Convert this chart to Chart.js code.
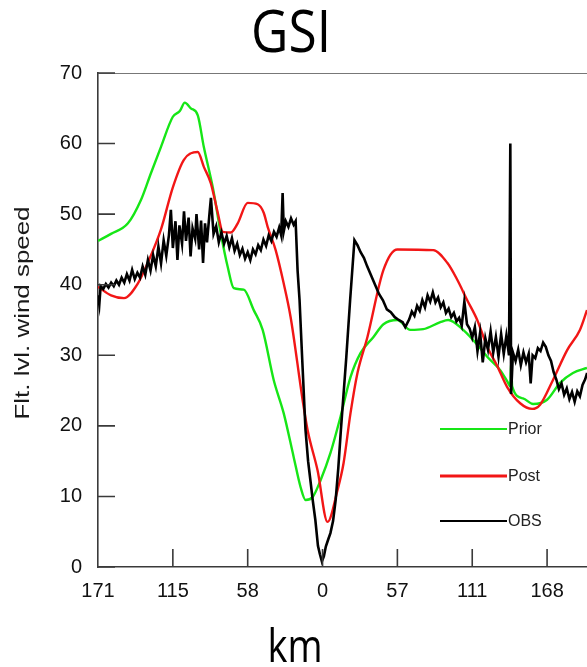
<!DOCTYPE html>
<html>
<head>
<meta charset="utf-8">
<script src="https://cdn.jsdelivr.net/npm/chart.js@4.4.1/dist/chart.umd.min.js"></script>
<style>
  html, body { margin: 0; padding: 0; background: #fff; }
  canvas { display: block; }
</style>
</head>
<body>
<canvas id="wind" width="587" height="667"></canvas>
<script>
// ─── Axis setup ───────────────────────────────────────────────────
// along-track position in km (centre pass = 0); tick labels give distance from centre
const tickPos = [-171, -114, -57, 0, 57, 114, 171];
const tickLabels = ['171', '115', '58', '0', '57', '111', '168'];
const yTicks = [0, 10, 20, 30, 40, 50, 60, 70];
const seriesNames = ['Prior', 'Post', 'OBS'];

// ─── Prior (background) ───────────────────────────────────────────
const priorKm = [-171, -161.1, -148.2, -138.3, -130.7, -123.1, -114, -108.7, -104.9, -100.3, -95, -90.4,
  -83.6, -77.5, -72.2, -67.6, -60, -52.4, -45.6, -37.2, -29.6, -22, -16.7, -12.9, -7.6, -1.5, 6.1, 13.7,
  21.3, 28.9, 38.8, 46.4, 57, 66.9, 76.7, 89.7, 95.7, 107.1, 120.1, 125.4, 135.3, 141.3, 142.9, 143.6,
  144.4, 152.7, 160.3, 171, 180.9, 190.7, 201.4];
const priorVal = [46.2, 47.2, 48.7, 52.0, 55.8, 59.5, 63.8, 64.6, 65.8, 65.0, 64.0, 59.5,
  53.8, 47.3, 42.5, 39.5, 39.3, 36.4, 33.6, 26.5, 21.8, 15.6, 11.3, 9.5, 9.9, 12.3, 16.2, 21.3,
  26.9, 30.3, 32.6, 34.4, 35.0, 33.6, 33.7, 34.7, 35.0, 33.6, 31.0, 29.8, 27.9, 26.1, 25.6, 29.0,
  25.6, 23.9, 23.1, 23.7, 26.1, 27.5, 28.2];

// ─── Post (analysis) ──────────────────────────────────────────────
const postKm = [-171, -161.1, -151.2, -140.6, -132.2, -123.1, -114, -105.6, -95, -90.4, -85.1, -79.8,
  -76, -69.9, -64.6, -57, -49.4, -44.8, -41.8, -35.7, -29.6, -24.3, -15.2, -11.4, -3.8, 3.8, 11.4,
  16, 21.3, 26.6, 34.2, 46.4, 57, 84.3, 95, 102.6, 110.2, 117.8, 125.4, 133, 140.6, 150.5, 159.6,
  165.7, 175.5, 186.2, 196, 201.4];
const postVal = [39.7, 38.5, 38.1, 40.2, 43.5, 47.8, 53.8, 57.7, 58.8, 56.7, 54.4, 50.2,
  47.5, 47.4, 48.7, 51.6, 51.4, 50.2, 48.2, 44.9, 40.2, 35.4, 23.7, 19.4, 13.7, 6.4, 10.9,
  14.7, 21.8, 27.5, 32.6, 42.1, 45.0, 44.9, 43.1, 40.7, 37.8, 35.0, 31.2, 28.5, 25.5, 23.2, 22.4,
  23.0, 26.5, 30.7, 33.6, 36.4];

// ─── OBS (flight-level observations) ──────────────────────────────
const obsKm = [-171, -170, -169, -167, -165, -163, -161, -159, -157, -155, -153, -151, -149, -147, -145,
  -143, -141, -139, -137, -135, -133, -131, -129, -127, -125, -123, -121, -119, -117, -115.5, -114,
  -112, -110.5, -109, -107, -105.5, -104, -102, -100.5, -99, -97, -96, -94, -92.5, -91, -89.5, -88,
  -86, -85, -83, -81, -79, -77, -75, -73, -71, -69, -67, -65, -63, -61, -59, -57, -55, -53, -51,
  -49, -47, -45, -43, -41, -39, -37, -35, -33, -31.5, -30.4, -29.5, -28, -26, -24, -22, -20.5, -19,
  -17.5, -15.5, -13, -11, -9, -7.5, -5.5, -3.5, -2, -0.5, 1, 2.5, 4.5, 6, 8, 10, 12, 14, 16, 18,
  21, 24.3, 26.6, 29, 31.5, 34, 37, 40, 43, 46, 49, 52, 55, 58, 61, 63, 66, 68, 70, 72, 74, 76,
  78, 80, 82, 84, 86, 88, 90, 92, 94, 96, 98, 100, 102, 104, 106, 108, 110, 112, 114, 116, 118,
  120, 122, 124, 126, 128, 130, 132, 134, 136, 138, 140, 142, 143, 143.6, 145, 147, 149, 151, 153,
  155, 157, 158.5, 160, 162, 164, 166, 168, 170, 172, 174, 176, 178, 180, 182, 184, 186, 188, 190,
  192, 194, 196, 198, 200, 201.5];
const obsVal = [38.5, 37.2, 39.8, 39.4, 40.1, 39.6, 40.3, 39.8, 40.6, 40.0, 41.0, 40.3, 41.5, 40.6, 42.1,
  40.8, 41.7, 41.0, 42.6, 41.4, 43.5, 42.0, 44.2, 42.6, 45.4, 43.0, 46.3, 44.1, 47.0, 50.6, 45.2,
  49.0, 43.5, 48.4, 45.8, 50.4, 46.2, 49.5, 44.0, 48.0, 46.5, 50.0, 45.0, 49.1, 43.1, 48.7, 46.0,
  50.3, 52.3, 47.2, 48.3, 46.0, 47.4, 45.8, 46.9, 45.3, 46.6, 44.8, 45.8, 44.2, 45.1, 43.7, 44.6, 43.5, 45.0, 44.3,
  45.6, 44.9, 46.4, 45.5, 47.0, 46.2, 47.5, 46.8, 48.1, 47.0, 53.0, 47.6, 49.0, 48.2, 49.4, 48.5, 49.0, 42.0,
  37.8, 29.5, 19.5, 15.0, 11.9, 9.5, 6.7, 3.0, 1.8, 0.8, 1.5, 2.9, 4.0, 4.8, 6.5, 9.5, 14.0, 19.5, 24.5, 29.5,
  37.8, 46.3, 45.6, 44.6, 43.8, 42.6, 41.3, 40.0, 38.7, 37.8, 36.5, 36.1, 35.4, 35.0, 34.7, 34.0, 35.1, 36.2, 35.6, 37.0, 36.3, 37.8,
  36.8, 38.5, 37.6, 38.9, 37.5, 38.2, 36.8, 37.5, 36.0, 36.6, 35.4, 36.0, 34.8, 35.3, 34.2, 37.6, 34.4, 33.8, 32.5, 34.0, 30.6,
  33.2, 29.0, 32.4, 30.8, 33.4, 30.4, 32.6, 29.8, 33.0, 30.2, 32.8, 30.0, 60.0, 24.5, 30.4, 29.2, 30.8, 28.6, 30.4,
  29.0, 30.2, 26.0, 30.0, 29.6, 31.0, 30.6, 31.8, 31.2, 30.0, 29.2, 27.6, 26.6, 25.2, 26.0, 24.4, 25.3, 23.8, 24.8,
  23.4, 24.9, 24.2, 25.8, 26.6, 27.5];

const colors = { prior: '#16e616', post: '#f21616', obs: '#000000', axis: '#3a3a3a', text: '#111111' };
const tickFont = '"Liberation Sans", Arial, sans-serif';

const toPoints = (xs, ys) => xs.map((x, i) => ({ x, y: ys[i] }));

// draw text squeezed/stretched to a given width
function fitText(ctx, text, cx, cy, width) {
    const w = ctx.measureText(text).width;
    ctx.save();
    ctx.translate(cx, cy);
    ctx.scale(width / w, 1);
    ctx.fillText(text, 0, 0);
    ctx.restore();
}

// ─── Frame, inward ticks, titles and legend ───────────────────────
const decorations = {
    id: 'decorations',
    afterDraw(chart) {
        const { ctx, chartArea: a, scales: { x, y } } = chart;
        ctx.save();

        // top frame line
        ctx.strokeStyle = '#777';
        ctx.lineWidth = 1.2;
        ctx.beginPath();
        ctx.moveTo(a.left, a.top + 0.5);
        ctx.lineTo(a.right, a.top + 0.5);
        ctx.stroke();

        // tick marks point into the plot
        ctx.strokeStyle = colors.axis;
        ctx.lineWidth = 1.6;
        ctx.beginPath();
        yTicks.forEach((v) => {
            const py = y.getPixelForValue(v);
            ctx.moveTo(a.left, py);
            ctx.lineTo(a.left + 17, py);
        });
        tickPos.slice(1).forEach((v) => {
            const px = x.getPixelForValue(v);
            ctx.moveTo(px, a.bottom);
            ctx.lineTo(px, a.bottom - 18);
        });
        ctx.stroke();

        // legend inside the plot
        const legendColors = [colors.prior, colors.post, colors.obs];
        const legendWidths = [2, 3, 2];
        const legendY = [429, 476, 521];
        ctx.font = '16px ' + tickFont;
        ctx.textBaseline = 'middle';
        ctx.textAlign = 'left';
        seriesNames.forEach((name, i) => {
            ctx.strokeStyle = legendColors[i];
            ctx.lineWidth = legendWidths[i];
            ctx.beginPath();
            ctx.moveTo(440, legendY[i]);
            ctx.lineTo(507, legendY[i]);
            ctx.stroke();
            ctx.fillStyle = '#222';
            ctx.fillText(name, 508, legendY[i] + 1);
        });

        // titles
        ctx.fillStyle = '#000';
        ctx.textAlign = 'center';
        ctx.textBaseline = 'alphabetic';
        ctx.font = '59px "Open Sans", sans-serif';
        fitText(ctx, 'GSI', 291, 52, 80);
        ctx.font = '45px "Open Sans", sans-serif';
        fitText(ctx, 'km', 295, 662, 55);

        ctx.save();
        ctx.translate(23, 313);
        ctx.rotate(-Math.PI / 2);
        ctx.font = '21px ' + tickFont;
        ctx.textBaseline = 'middle';
        ctx.fillStyle = '#1a1a1a';
        fitText(ctx, 'Flt. lvl. wind speed', 0, 0, 213);
        ctx.restore();

        ctx.restore();
    },
};

new Chart(document.getElementById('wind'), {
    type: 'line',
    data: {
        datasets: [
            {
                label: seriesNames[0],
                data: toPoints(priorKm, priorVal),
                borderColor: colors.prior,
                borderWidth: 2.4,
                cubicInterpolationMode: 'monotone',
                order: 3,
            },
            {
                label: seriesNames[1],
                data: toPoints(postKm, postVal),
                borderColor: colors.post,
                borderWidth: 2.4,
                cubicInterpolationMode: 'monotone',
                order: 2,
            },
            {
                label: seriesNames[2],
                data: toPoints(obsKm, obsVal),
                borderColor: colors.obs,
                borderWidth: 2.6,
                order: 1,
            },
        ],
    },
    options: {
        responsive: false,
        animation: false,
        parsing: false,
        elements: { point: { radius: 0 }, line: { tension: 0, fill: false } },
        layout: { padding: { top: 73, left: 0, right: 0, bottom: 0 } },
        plugins: {
            legend: { display: false },
            title: { display: false },
            tooltip: { enabled: false },
        },
        scales: {
            x: {
                type: 'linear',
                min: -171,
                max: 201.4,
                afterFit: (s) => { s.height = 100; },
                afterBuildTicks: (s) => { s.ticks = tickPos.map((v) => ({ value: v })); },
                grid: { display: false, drawTicks: false },
                border: { display: true, color: colors.axis, width: 1.6 },
                ticks: {
                    autoSkip: false,
                    maxRotation: 0,
                    padding: 12,
                    color: colors.text,
                    font: { family: tickFont, size: 20 },
                    callback: (v) => tickLabels[tickPos.indexOf(v)] ?? '',
                },
            },
            y: {
                min: 0,
                max: 70,
                afterFit: (s) => { s.width = 98; },
                afterBuildTicks: (s) => { s.ticks = yTicks.map((v) => ({ value: v })); },
                grid: { display: false, drawTicks: false },
                border: { display: true, color: colors.axis, width: 1.6 },
                ticks: {
                    padding: 16,
                    color: colors.text,
                    font: { family: tickFont, size: 20 },
                },
            },
        },
    },
    plugins: [decorations],
});
</script>
</body>
</html>
